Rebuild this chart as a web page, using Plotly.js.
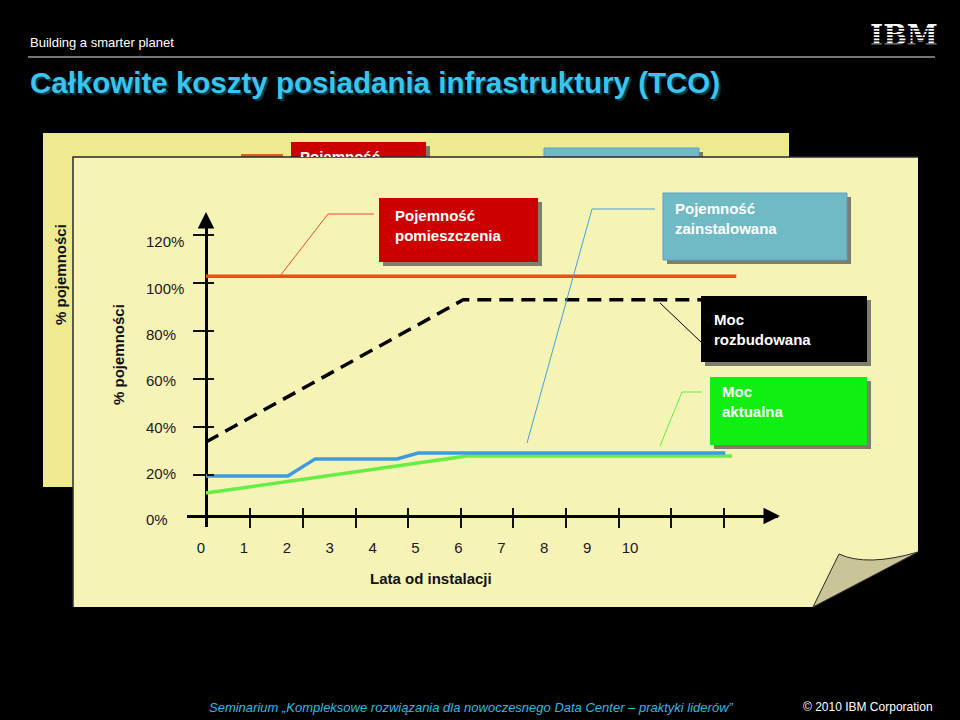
<!DOCTYPE html>
<html><head><meta charset="utf-8">
<script src="https://cdn.plot.ly/plotly-3.0.1.min.js"></script>
<style>html,body{margin:0;padding:0;background:#000;}#chart{width:960px;height:720px;}</style>
</head><body><div id="chart"></div>
<script>
// ---- data ----
const yearsRoom = [0, 10.1];
const roomCapacity = [102, 102];                 // Pojemność pomieszczenia
const yearsBuilt = [0, 4.9, 9.6];
const builtPower = [31.5, 92, 92];               // Moc rozbudowana (dashed)
const yearsInstalled = [0, 1.56, 2.08, 3.64, 4.04, 9.89];
const installedCapacity = [17, 17, 24.3, 24.3, 26.8, 26.8]; // Pojemność zainstalowana
const yearsActual = [0, 4.97, 10.02];
const actualPower = [9.8, 25.5, 25.5];           // Moc aktualna
const yearTickMarks = [1, 2, 3, 4, 5, 6, 7, 8, 9, 10];
const yearLabelVals = [0, 1, 2, 3, 4, 5, 6, 7, 8, 9, 10];
const yearLabels = ['0', '1', '2', '3', '4', '5', '6', '7', '8', '9', '10'];
const pctTickMarks = [20, 40, 60, 80, 100, 120];
const pctLabelVals = [0, 20, 40, 60, 80, 100, 120];
const pctLabels = ['0%', '20%', '40%', '60%', '80%', '100%', '120%'];

// ---- helpers (page geometry, pixels -> paper) ----
const W = 960, H = 720;
const fx = x => x / W;
const fy = y => 1 - y / H;
const FONT = 'Arial, "Liberation Sans", sans-serif';
function rect(x0, y0, x1, y1, fill, layer, line) {
  return {type: 'rect', xref: 'paper', yref: 'paper', x0: fx(x0), x1: fx(x1), y0: fy(y1), y1: fy(y0),
    fillcolor: fill, line: line || {width: 0}, layer: layer};
}
function poly(pts, closed) {
  let s = '';
  pts.forEach((p, i) => {
    if (p.length === 4) s += 'Q' + fx(p[0]) + ',' + fy(p[1]) + ' ' + fx(p[2]) + ',' + fy(p[3]) + ' ';
    else s += (i === 0 ? 'M' : 'L') + fx(p[0]) + ',' + fy(p[1]) + ' ';
  });
  return s + (closed ? 'Z' : '');
}
function pathShape(pts, closed, fill, lineColor, lw, layer) {
  return {type: 'path', xref: 'paper', yref: 'paper', path: poly(pts, closed),
    fillcolor: fill || 'rgba(0,0,0,0)', line: {color: lineColor || 'rgba(0,0,0,0)', width: lw || 0}, layer: layer};
}
function box(x0, y0, x1, y1, fill, border) {
  return [rect(x0 + 4, y0 + 4, x1 + 4, y1 + 4, 'rgba(85,85,85,0.75)', 'above'),
          rect(x0, y0, x1, y1, fill, 'above', border ? {color: border, width: 1} : {width: 0})];
}

// ---- traces ----
const traces = [
  {x: yearsRoom, y: roomCapacity, mode: 'lines', line: {color: '#F24A18', width: 3.5}},
  {x: yearsBuilt, y: builtPower, mode: 'lines', line: {color: '#000', width: 3.5, dash: '14px,8px'}},
  {x: yearsActual, y: actualPower, mode: 'lines', line: {color: '#66EE44', width: 3.5}},
  {x: yearsInstalled, y: installedCapacity, mode: 'lines', line: {color: '#3E9BE0', width: 3.5}},
  // carriers for overlay axes (no marks)
  {x: [], y: [], xaxis: 'x2', yaxis: 'y'},
  {x: [], y: [], xaxis: 'x3', yaxis: 'y'},
  {x: [], y: [], xaxis: 'x4', yaxis: 'y'},
  {x: [], y: [], xaxis: 'x', yaxis: 'y2'},
  {x: [], y: [], xaxis: 'x', yaxis: 'y3'},
  {x: [], y: [], xaxis: 'x', yaxis: 'y4'},
  // IBM logo text (page subplot)
  {x: [904], y: [38], mode: 'text', text: ['IBM'], textposition: 'middle center', xaxis: 'x5', yaxis: 'y5',
   cliponaxis: false, textfont: {family: '"DejaVu Serif", serif', size: 28, color: '#fff', weight: 'bold'}},
  // partly hidden label of the back sheet (clipped by its small subplot)
  {x: [300], y: [158], mode: 'text', text: ['Pojemność'], textposition: 'middle right', xaxis: 'x6', yaxis: 'y6',
   cliponaxis: true, textfont: {family: FONT, size: 15, color: '#fff', weight: 'bold'}}
];

// ---- shapes ----
const shapes = [];
// back sheet and what shows of it
shapes.push(rect(43, 133, 789, 487, '#EEEA90', 'below'));
shapes.push(rect(241, 154, 283, 160, '#D8602C', 'below'));
shapes.push(rect(295, 146, 430, 160, 'rgba(85,85,85,0.75)', 'below'));
shapes.push(rect(291, 142, 426, 160, '#CC0000', 'below'));
shapes.push(rect(548, 152, 703, 160, 'rgba(85,85,85,0.75)', 'below'));
shapes.push(rect(544, 148, 699, 160, '#70BAC6', 'below', {color: '#5A9FD0', width: 1}));
// front sheet with curled corner
shapes.push(pathShape([[73, 157], [918, 157], [918, 552], [813, 607], [73, 607]], true, '#F5F3B6', null, 0, 'below'));
shapes.push(pathShape([[73, 607], [73, 157], [918, 157]], false, null, '#2a2a2a', 1.5, 'below'));
shapes.push(pathShape([[813, 607], [839, 554], [867, 567, 918, 552], [813, 607]], true, '#C9C596', '#2a2a2a', 1, 'below'));
// header rule
shapes.push({type: 'line', xref: 'paper', yref: 'paper', x0: fx(28), x1: fx(935), y0: fy(57), y1: fy(57),
  line: {color: '#9a9a9a', width: 1.5}, layer: 'below'});
// IBM logo stripes
for (let k = 0; k < 7; k++) {
  const yy = 28.3 + k * 3.15;
  shapes.push({type: 'line', xref: 'paper', yref: 'paper', x0: fx(868), x1: fx(940), y0: fy(yy), y1: fy(yy),
    line: {color: '#000', width: 1.3}, layer: 'above'});
}
// callout connectors
shapes.push(pathShape([[280, 276], [328, 214], [374, 214]], false, null, '#E8502A', 1, 'above'));
shapes.push(pathShape([[527, 443], [592, 209], [655, 209]], false, null, '#4AA0D8', 1, 'above'));
shapes.push(pathShape([[660, 303], [701, 342]], false, null, '#000', 1, 'above'));
shapes.push(pathShape([[660, 446], [682, 392], [702, 392]], false, null, '#66EE44', 1, 'above'));
// callout boxes
shapes.push(...box(379, 198, 538, 262, '#CC0000'));
shapes.push(...box(663, 193, 847, 260, '#70BAC6', '#5A9FD0'));
shapes.push(...box(701, 296, 867, 362, '#000000'));
shapes.push(...box(710, 377, 867, 445, '#11EE11'));

// ---- annotations ----
function txt(t, x, y, size, color, opts) {
  return Object.assign({text: t, x: fx(x), y: fy(y), xref: 'paper', yref: 'paper', showarrow: false,
    xanchor: 'left', yanchor: 'middle', align: 'left', font: {family: FONT, size: size, color: color}}, opts || {});
}
const annotations = [
  txt('Building a smarter planet', 28, 42, 13, '#ffffff'),
  txt('<b>Całkowite koszty posiadania infrastruktury (TCO)</b>', 28, 82, 29.5, '#38C6EE',
      {font: {family: FONT, size: 29.5, color: '#38C6EE', shadow: '2px 2px 1px #0d3b4c'}}),
  txt('<i>Seminarium „Kompleksowe rozwiązania dla nowoczesnego Data Center – praktyki liderów”</i>', 471, 707, 13, '#2FB9E2', {xanchor: 'center'}),
  txt('© 2010 IBM Corporation', 935, 707, 12, '#ffffff', {xanchor: 'right'}),
  txt('<b>% pojemności</b>', 60, 275, 15, '#111', {xanchor: 'center', textangle: -90}),
  txt('<b>% pojemności</b>', 118, 355, 15, '#111', {xanchor: 'center', textangle: -90}),
  txt('<b>Lata od instalacji</b>', 431, 578, 15, '#111', {xanchor: 'center'}),
  txt('<b>Pojemność<br>pomieszczenia</b>', 393, 225.5, 15, '#ffffff'),
  txt('<b>Pojemność<br>zainstalowana</b>', 673, 218.5, 15, '#ffffff'),
  txt('<b>Moc<br>rozbudowana</b>', 712, 329.5, 15, '#ffffff'),
  txt('<b>Moc<br>aktualna</b>', 720, 401.5, 15, '#ffffff'),
  // axis arrowheads
  {x: fx(206), y: fy(212), xref: 'paper', yref: 'paper', text: '', showarrow: true, arrowhead: 2,
   arrowsize: 1.1, arrowwidth: 3, arrowcolor: '#000', ax: 0, ay: 16},
  {x: fx(780), y: fy(516), xref: 'paper', yref: 'paper', text: '', showarrow: true, arrowhead: 2,
   arrowsize: 1.1, arrowwidth: 3, arrowcolor: '#000', ax: -16, ay: 0}
];

// ---- axes ----
const xDom = [fx(187), fx(778)];
const yDom = [fy(527), fy(217)];
const hide = {showgrid: false, zeroline: false, showline: false, fixedrange: true};
const tickFont = {family: FONT, size: 15, color: '#1a1a1a'};
const layout = {
  width: W, height: H, margin: {l: 0, r: 0, t: 0, b: 0},
  paper_bgcolor: '#000', plot_bgcolor: 'rgba(0,0,0,0)', showlegend: false, hovermode: false,
  xaxis: Object.assign({}, hide, {domain: xDom, range: [-0.3619, 10.895], zeroline: true, zerolinecolor: '#000',
    zerolinewidth: 3, showticklabels: false, ticks: ''}),
  yaxis: Object.assign({}, hide, {domain: yDom, range: [-4.681, 127.23], zeroline: true, zerolinecolor: '#000',
    zerolinewidth: 3, showticklabels: false, ticks: ''}),
  xaxis2: Object.assign({}, hide, {overlaying: 'x', anchor: 'free', position: fy(516), range: [-0.2053, 11.03],
    tickmode: 'array', tickvals: yearTickMarks, ticks: 'outside', ticklen: 11, tickwidth: 2, tickcolor: '#111', showticklabels: false}),
  xaxis3: Object.assign({}, hide, {overlaying: 'x', anchor: 'free', position: fy(516), range: [-0.2053, 11.03],
    tickmode: 'array', tickvals: yearTickMarks, ticks: 'inside', ticklen: 8, tickwidth: 2, tickcolor: '#111', showticklabels: false}),
  xaxis4: Object.assign({}, hide, {overlaying: 'x', anchor: 'free', position: fy(516), range: [-0.3263, 13.45],
    tickmode: 'array', tickvals: yearLabelVals, ticktext: yearLabels, ticks: 'outside', ticklen: 18,
    tickcolor: 'rgba(0,0,0,0)', tickfont: tickFont}),
  yaxis2: Object.assign({}, hide, {overlaying: 'y', anchor: 'free', position: fx(206), range: [-1.667, 127.5],
    tickmode: 'array', tickvals: pctTickMarks, ticks: 'outside', ticklen: 13, tickwidth: 2, tickcolor: '#111', showticklabels: false}),
  yaxis3: Object.assign({}, hide, {overlaying: 'y', anchor: 'free', position: fx(206), range: [-1.667, 127.5],
    tickmode: 'array', tickvals: pctTickMarks, ticks: 'inside', ticklen: 7, tickwidth: 2, tickcolor: '#111', showticklabels: false}),
  yaxis4: Object.assign({}, hide, {overlaying: 'y', anchor: 'free', side: 'right', position: fx(145), range: [-3.021, 130.77],
    tickmode: 'array', tickvals: pctLabelVals, ticktext: pctLabels, ticks: '', tickfont: tickFont}),
  xaxis5: Object.assign({}, hide, {domain: [0, 1], range: [0, 960], anchor: 'y5', visible: false}),
  yaxis5: Object.assign({}, hide, {domain: [0, 1], range: [720, 0], anchor: 'x5', visible: false}),
  xaxis6: Object.assign({}, hide, {domain: [fx(291), fx(426)], range: [291, 426], anchor: 'y6', visible: false}),
  yaxis6: Object.assign({}, hide, {domain: [fy(157), fy(142)], range: [157, 142], anchor: 'x6', visible: false}),
  shapes: shapes,
  annotations: annotations
};
Plotly.newPlot('chart', traces, layout, {staticPlot: true, displayModeBar: false});
</script>
</body></html>
